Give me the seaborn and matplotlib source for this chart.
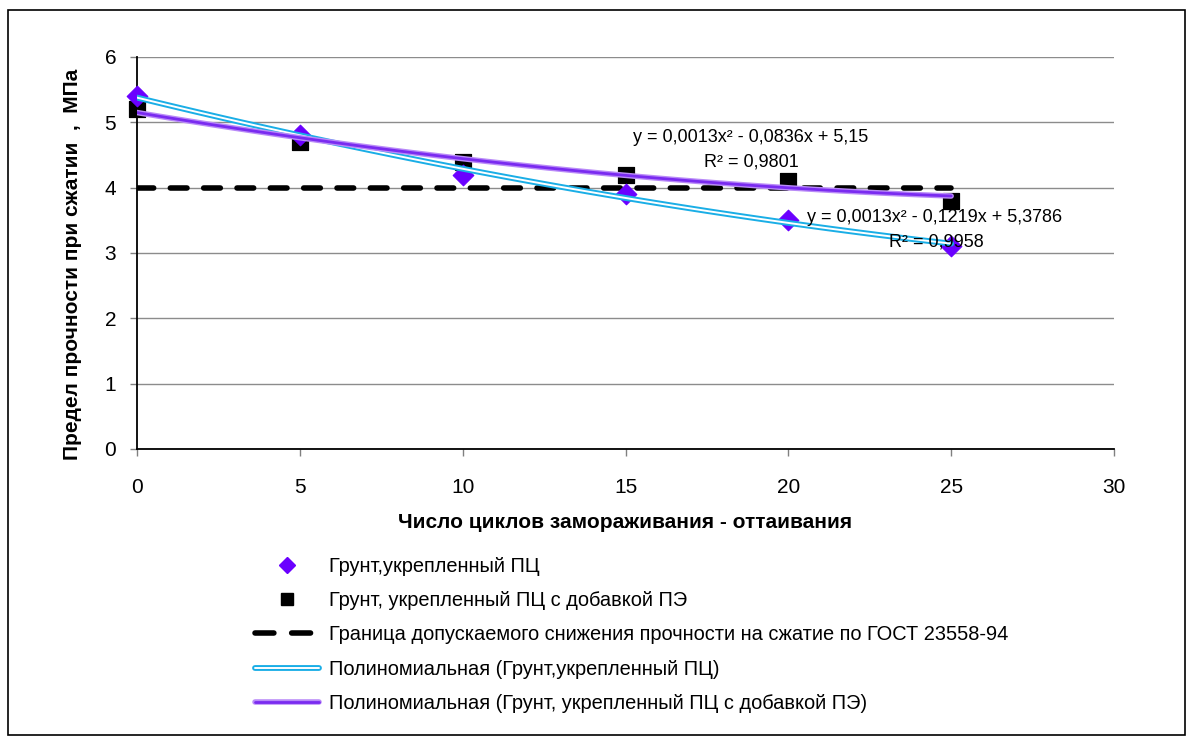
import numpy as np
import pandas as pd
import matplotlib
matplotlib.use("Agg")
import matplotlib.pyplot as plt
import seaborn as sns
from matplotlib.lines import Line2D
from matplotlib.legend_handler import HandlerTuple
from matplotlib.patches import Rectangle

# ---- data ----
cycles = [0, 5, 10, 15, 20, 25]
strength_pc = [5.4, 4.8, 4.2, 3.9, 3.5, 3.1]          # Грунт,укрепленный ПЦ
strength_pc_pe = [5.2, 4.7, 4.4, 4.2, 4.1, 3.8]       # Грунт, укрепленный ПЦ с добавкой ПЭ
limit_x = [0, 25]
limit_y = [4, 4]
coef_pc = [0.0013, -0.1219, 5.3786]
coef_pc_pe = [0.0013, -0.0836, 5.15]
eq_pc = ["y = 0,0013x² - 0,1219x + 5,3786", "R² = 0,9958"]
eq_pc_pe = ["y = 0,0013x² - 0,0836x + 5,15", "R² = 0,9801"]
lbl_pc = "Грунт,укрепленный ПЦ"
lbl_pc_pe = "Грунт, укрепленный ПЦ с добавкой ПЭ"
lbl_limit = "Граница допускаемого снижения прочности на сжатие по ГОСТ 23558-94"
lbl_poly_pc = "Полиномиальная (Грунт,укрепленный ПЦ)"
lbl_poly_pc_pe = "Полиномиальная (Грунт, укрепленный ПЦ с добавкой ПЭ)"
xlabel = "Число циклов замораживания - оттаивания"
ylabel = "Предел прочности при сжатии  ,  МПа"

sns.set_theme(style="white")
plt.rcParams['font.family'] = ['Liberation Sans', 'DejaVu Sans']
plt.rcParams['text.color'] = 'black'
plt.rcParams['axes.labelcolor'] = 'black'
plt.rcParams['xtick.color'] = '#808080'
plt.rcParams['ytick.color'] = '#808080'
plt.rcParams['xtick.labelcolor'] = 'black'
plt.rcParams['ytick.labelcolor'] = 'black'

W, H = 1193, 743
fig = plt.figure(figsize=(W / 100, H / 100), dpi=100)
ax = fig.add_axes([137 / W, 1 - 449 / H, (1114 - 137) / W, (449 - 57) / H])

# outer frame
fig.patches.append(Rectangle((8 / W, 1 - 735 / H), (1185 - 8) / W, (735 - 10) / H,
                             transform=fig.transFigure, fill=False, edgecolor='black', lw=1.2))

cyan = '#1AAEE6'
purple = '#7A2BF0'
lavender = '#B98AF8'
diamond_c = '#6A00FF'

ax.set_ylim(0, 6)
ax.set_xlim(0, 30)
ax.set_yticks(range(0, 7))
ax.set_xticks(range(0, 31, 5))
ax.yaxis.grid(True, color='#8c8c8c', lw=1.0)
ax.xaxis.grid(False)
ax.set_axisbelow(True)

dash = (0, (3.0, 3.0))

# dashed limit line
df_lim = pd.DataFrame({'x': limit_x, 'y': limit_y})
sns.lineplot(data=df_lim, x='x', y='y', ax=ax, color='black', lw=4.0,
             linestyle=dash, dash_capstyle='round', zorder=2)

# points
df_p1 = pd.DataFrame({'x': cycles, 'y': strength_pc})
df_p2 = pd.DataFrame({'x': cycles, 'y': strength_pc_pe})
sns.scatterplot(data=df_p2, x='x', y='y', ax=ax, marker='s', s=120, color='black',
                edgecolor='black', zorder=2.5, clip_on=False)
sns.scatterplot(data=df_p1, x='x', y='y', ax=ax, marker='D', s=110, color=diamond_c,
                edgecolor=diamond_c, zorder=2.6, clip_on=False)

# trend lines
xs = np.linspace(0, 25, 100)
df_t1 = pd.DataFrame({'x': xs, 'y': np.polyval(coef_pc, xs)})
df_t2 = pd.DataFrame({'x': xs, 'y': np.polyval(coef_pc_pe, xs)})
sns.lineplot(data=df_t1, x='x', y='y', ax=ax, color=cyan, lw=4.2, zorder=3)
sns.lineplot(data=df_t1, x='x', y='y', ax=ax, color='white', lw=1.4, zorder=3)
sns.lineplot(data=df_t2, x='x', y='y', ax=ax, color=lavender, lw=4.0, zorder=3)
sns.lineplot(data=df_t2, x='x', y='y', ax=ax, color=purple, lw=2.0, zorder=3)

# equations
for txt, (px, py) in zip(eq_pc_pe + eq_pc, [(751, 137), (751, 162), (935, 218), (936, 242)]):
    fig.text(px / W, 1 - py / H, txt, ha='center', va='center', fontsize=13, zorder=5)

# axes styling
for s in ['top', 'right']:
    ax.spines[s].set_visible(False)
ax.spines['left'].set_color('black')
ax.spines['bottom'].set_color('black')
ax.spines['left'].set_linewidth(1.3)
ax.spines['bottom'].set_linewidth(1.3)
ax.tick_params(axis='x', which='major', direction='out', length=5, width=1,
               labelsize=15, pad=16, bottom=True)
ax.tick_params(axis='y', which='major', direction='out', length=5, width=1,
               labelsize=15, pad=10, left=True)
ax.set_xlabel(xlabel, fontsize=15, fontweight='bold')
ax.set_ylabel(ylabel, fontsize=15, fontweight='bold')
ax.xaxis.set_label_coords(0.5, -0.164)
ax.yaxis.set_label_coords(-0.056, 0.47)

# legend
h1 = Line2D([], [], marker='D', color=diamond_c, linestyle='none', markersize=8)
h2 = Line2D([], [], marker='s', color='black', linestyle='none', markersize=8.5)
h3 = Line2D([], [], color='black', lw=4.0, linestyle=(0, (3.4, 3.2)), dash_capstyle='round')
h4 = (Line2D([], [], color=cyan, lw=4.2), Line2D([], [], color='white', lw=1.4))
h5 = (Line2D([], [], color=lavender, lw=4.0), Line2D([], [], color=purple, lw=2.0))
fig.legend([h1, h2, h3, h4, h5], [lbl_pc, lbl_pc_pe, lbl_limit, lbl_poly_pc, lbl_poly_pc_pe],
           handler_map={tuple: HandlerTuple(ndivide=1, pad=0)},
           loc='upper left', bbox_to_anchor=(255 / W, 1 - 557 / H),
           bbox_transform=fig.transFigure, frameon=False, fontsize=14.4,
           handlelength=3.2, handletextpad=0.5, labelspacing=0.76,
           borderpad=0, borderaxespad=0)

fig.savefig('out.png', dpi=100)
